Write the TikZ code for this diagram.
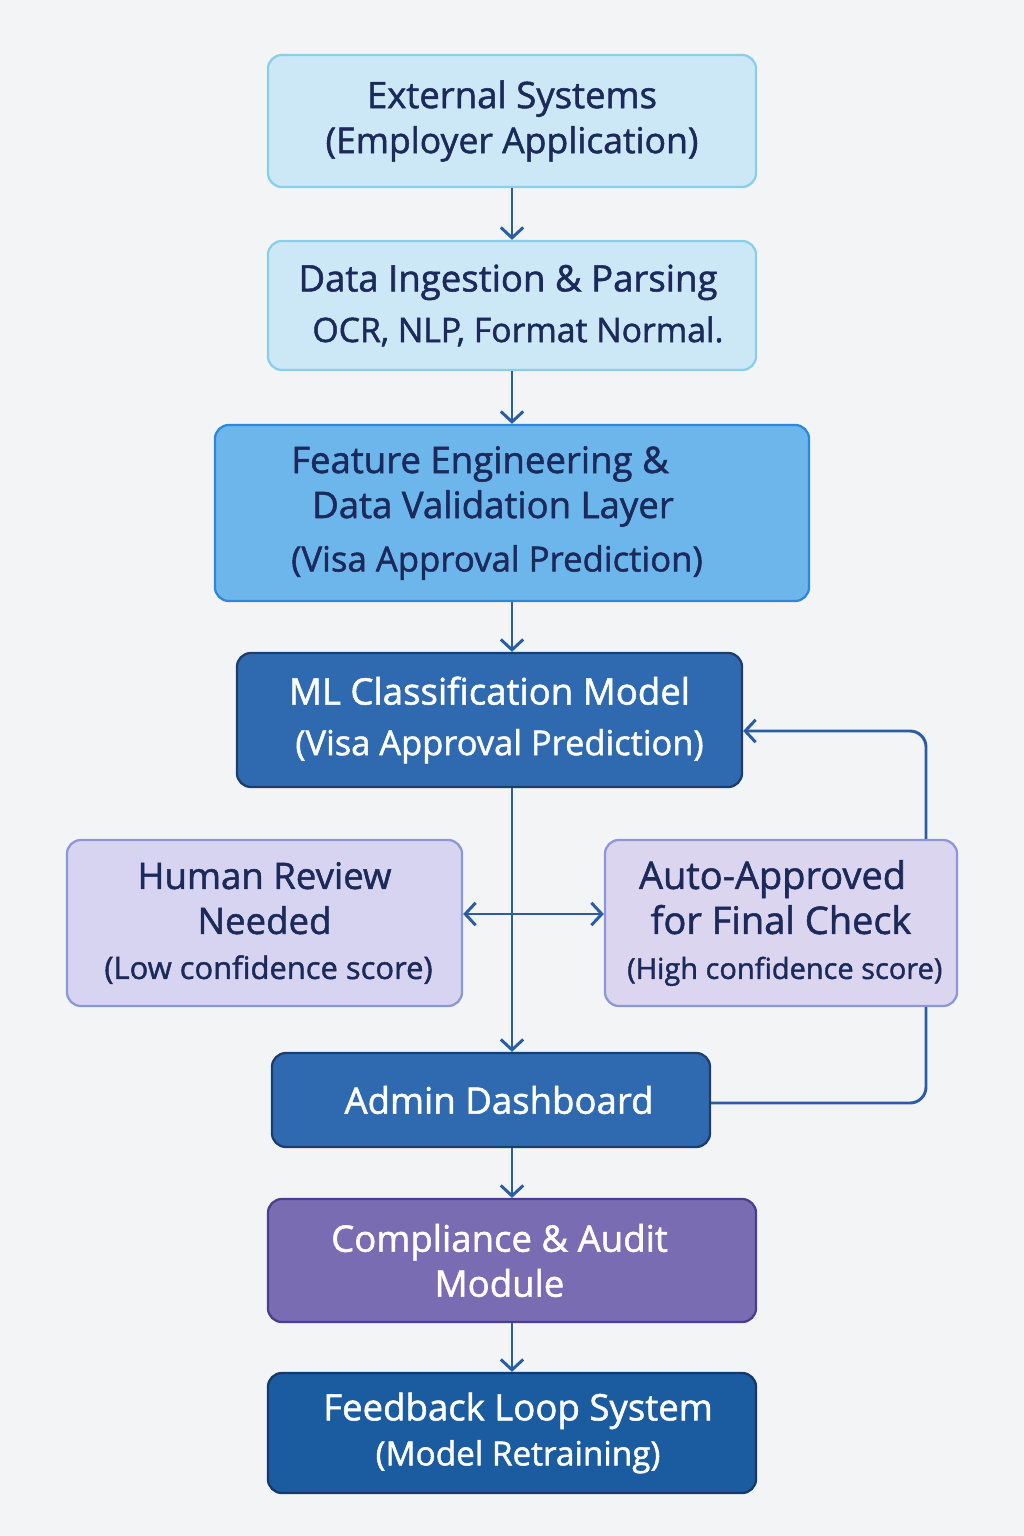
\documentclass[tikz,border=0pt]{standalone}
\usepackage{fontspec}
\setmainfont{Open Sans}[FakeBold=1.4]
\usepackage{xcolor}
\usetikzlibrary{positioning,calc,arrows.meta}
\definecolor{bgGray}{HTML}{F3F4F6}
\definecolor{cyanFill}{HTML}{CCE8F6}
\definecolor{cyanLine}{HTML}{8ACFEA}
\definecolor{skyFill}{HTML}{6CB6EC}
\definecolor{skyLine}{HTML}{2D88DB}
\definecolor{royalFill}{HTML}{2F6AB1}
\definecolor{royalLine}{HTML}{1C3D70}
\definecolor{lilacFill}{HTML}{D7D4F1}
\definecolor{lilacFillB}{HTML}{DCD5F0}
\definecolor{lilacLine}{HTML}{8E97D6}
\definecolor{purpleFill}{HTML}{7A6CB3}
\definecolor{purpleLine}{HTML}{4A3E92}
\definecolor{navyFill}{HTML}{1B5CA1}
\definecolor{navyLine}{HTML}{14396C}
\definecolor{inkText}{HTML}{1B2A5A}
\definecolor{arrowBlue}{HTML}{2B5CA6}
\tikzset{
    box/.style={rounded corners=0.35cm, line width=1.6pt, align=center, inner sep=0pt, font=\fontsize{26}{32}\selectfont},
    lightbox/.style={box, fill=cyanFill, draw=cyanLine, text=inkText},
    skybox/.style={box, fill=skyFill, draw=skyLine, text=inkText},
    royalbox/.style={box, fill=royalFill, draw=royalLine, text=white},
    lilacbox/.style={box, fill=lilacFill, draw=lilacLine, text=inkText},
    purplebox/.style={box, fill=purpleFill, draw=purpleLine, text=white},
    navybox/.style={box, fill=navyFill, draw=navyLine, text=white}
}
\newcommand{\subline}[1]{\fontsize{#1}{28}\selectfont}

\begin{document}
\begin{tikzpicture}[
        x=0.025cm, y=-0.025cm,
        % --- STYLE ---
        % Connector with open arrow head
        flow/.style={
            draw=arrowBlue,
            line width=2.1pt,
            -{Straight Barb[length=2.6mm, width=5.6mm]}
        },
        % Connector in both directions
        biflow/.style={
            draw=arrowBlue,
            line width=2.1pt,
            {Straight Barb[length=2.6mm, width=5.6mm]}-{Straight Barb[length=2.6mm, width=5.6mm]}
        },
        % Plain connector, no head
        plainline/.style={
            draw=arrowBlue,
            line width=2.1pt
        }
    ]

        % --- BACKGROUND ---
        \fill[bgGray] (0,0) rectangle (1024,1536);
        \useasboundingbox (0,0) rectangle (1024,1536);

        % --- MAIN PIPELINE NODES ---
        \node[lightbox, minimum width=12.2cm, minimum height=3.3cm] (ext) at (512,121)
            {External Systems\\{\subline{25.3}(Employer Application)}};
        \node[lightbox, minimum width=12.2cm, minimum height=3.225cm] (ingest) at (512,305.5)
            {\hspace{-0.2cm}Data Ingestion \& Parsing\\[4pt]\hspace{0.3cm}{\subline{24}OCR, NLP, Format Normal.}};
        \node[skybox, minimum width=14.85cm, minimum height=4.4cm] (feat) at (512,513)
            {\hspace{-1.6cm}Feature Engineering \&\\\hspace{-0.95cm}Data Validation Layer\\[6pt]\hspace{-0.75cm}{\subline{24.7}(Visa Approval Prediction)}};
        \node[royalbox, minimum width=12.625cm, minimum height=3.35cm] (ml) at (489.5,720)
            {ML Classification Model\\[4pt]\hspace{0.5cm}{\subline{24.5}(Visa Approval Prediction)}};

        % --- DECISION NODES ---
        \node[lilacbox, minimum width=9.875cm, minimum height=4.15cm] (human) at (264.5,923)
            {Human Review\\Needed\\{\subline{22} (Low confidence score)}};
        \node[lilacbox, fill=lilacFillB, minimum width=8.8cm, minimum height=4.15cm,
              font=\fontsize{27}{32}\selectfont] (auto) at (781,923)
            {\hspace{-0.425cm}Auto-Approved\\for Final Check\\{\subline{20.6} (High confidence score)}};

        % --- LOWER NODES ---
        \node[royalbox, minimum width=10.95cm, minimum height=2.35cm] (admin) at (491,1100)
            {\hspace{0.4cm}Admin Dashboard};
        \node[purplebox, minimum width=12.2cm, minimum height=3.075cm] (audit) at (512,1260.5)
            {\hspace{-0.625cm}Compliance \& Audit\\\hspace{-0.625cm}Module};
        \node[navybox, minimum width=12.2cm, minimum height=3cm] (feedback) at (512,1433)
            {\hspace{0.3cm}Feedback Loop System\\\hspace{0.3cm}{\subline{23.7}(Model Retraining)}};

        % --- CONNECTORS ---
        \draw[flow] (ext.south) -- (ingest.north);
        \draw[flow] (ingest.south) -- (feat.north);
        \draw[flow] (feat.south) -- (ml.north -| feat.south);
        \draw[flow] (ml.south -| ext.south) -- (admin.north -| ext.south);
        \draw[biflow] ([yshift=0.225cm]human.east) -- ([yshift=0.225cm]auto.west);
        \draw[flow] (admin.south -| ext.south) -- (audit.north);
        \draw[flow] (audit.south) -- (feedback.north);

        % --- FEEDBACK LOOP ON THE RIGHT ---
        \coordinate (loopx) at (926,731);
        \draw[flow, rounded corners=0.4cm] (auto.north -| loopx) |- ([yshift=-0.275cm]ml.east);
        \draw[plainline, rounded corners=0.4cm] (auto.south -| loopx) |- ([yshift=-0.075cm]admin.east);

    \end{tikzpicture}
\end{document}
